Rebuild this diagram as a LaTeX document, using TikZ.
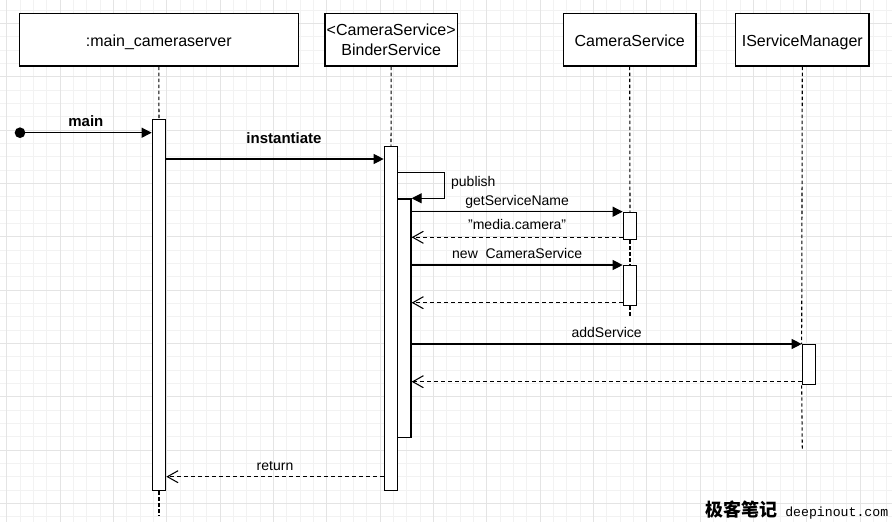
\documentclass[tikz,border=0pt]{standalone}
\usepackage{fontspec}
\setmainfont{Liberation Sans}
\newfontfamily\cjkfont{Noto Sans CJK SC}
\newfontfamily\urlfont{Liberation Mono}
\usepackage{tikz}
\usetikzlibrary{arrows.meta,positioning}
\definecolor{gridminor}{HTML}{F2F2F2}
\definecolor{gridmajor}{HTML}{E4E4E4}

\begin{document}
\begin{tikzpicture}[
    x=0.75pt, y=-0.75pt,
    head/.style={draw, line width=1pt, fill=white, minimum height=39.5pt, inner sep=0pt, align=center, font=\fontsize{12}{14.75}\selectfont},
    onehead/.style={head, text height=11pt, text depth=0.5pt},
    bar/.style={draw, line width=1pt, fill=white, minimum width=10pt, inner sep=0pt, anchor=north},
    life/.style={line width=0.8pt, dash pattern=on 2.5pt off 2pt},
    sync/.style={line width=0.8pt, -{Triangle[length=7.5pt,width=7.5pt]}},
    reply/.style={line width=0.8pt, dash pattern=on 3pt off 2.25pt, -{Straight Barb[length=8pt,width=9pt]}},
    lbl/.style={font=\fontsize{10.5}{12}\selectfont, inner sep=0pt, anchor=base},
    blbl/.style={lbl, font=\fontsize{11.25}{13}\selectfont\bfseries},
    minorline/.style={gridminor, line width=0.6pt},
    majorline/.style={gridmajor, line width=0.75pt}
]
    % === GRID ===
    \useasboundingbox (0,0) rectangle (892,522);
    \fill[white] (0,0) rectangle (892,522);
    \foreach \i in {0,...,66} \draw[minorline] ({6.667+13.333*\i},0) -- ++(0,522);
    \foreach \j in {0,...,38} \draw[minorline] (0,{10+13.333*\j}) -- ++(892,0);
    \foreach \i in {0,...,16} \draw[majorline] ({6.667+53.333*\i},0) -- ++(0,522);
    \foreach \j in {0,...,9} \draw[majorline] (0,{23.333+53.333*\j}) -- ++(892,0);

    % === PARTICIPANTS ===
    \node[onehead, minimum width=209.25pt] (mainhead) at (158.8,39.7) {:main\_cameraserver};
    \node[head, minimum width=99.2pt] (binhead) at (391.2,39.7) {<CameraService>\\BinderService};
    \node[onehead, minimum width=99.5pt] (camhead) at (629.7,39.7) {CameraService};
    \node[onehead, minimum width=100pt] (ismhead) at (802.3,39.7) {IServiceManager};

    % === ACTIVATIONS ===
    \node[bar, minimum height=278.25pt] (mainbar) at (159,119) {};
    \node[bar, minimum height=258.2pt] (binbar) at (391,145.7) {};
    \node[bar, minimum height=178.8pt] (pubbar) at (404.3,198.3) {};
    \node[bar, minimum height=20.5pt] (cambara) at (630,211.7) {};
    \node[bar, minimum height=30pt] (cambarb) at (630,265) {};
    \node[bar, minimum height=30pt] (ismbar) at (809,344) {};

    % === LIFELINES ===
    \coordinate (mainend) at (159,516);
    \coordinate (camend) at (630,316.7);
    \coordinate (ismend) at (802.3,450);
    \draw[life] (mainhead.south) -- (mainbar.north);
    \draw[life] (mainbar.south) -- (mainend);
    \draw[life] (binhead.south) -- (binbar.north);
    \draw[life] (camhead.south) -- (cambara.north);
    \draw[life] (cambara.south) -- (cambarb.north);
    \draw[life] (cambarb.south) -- (camend);
    \draw[life] (ismhead.south) -- (ismbar.north west);
    \draw[life] (ismbar.south west) -- (ismend);

    % === MESSAGES ===
    \node[circle, fill, inner sep=0pt, minimum size=8pt] (start) at (20,132.7) {};
    \draw[sync] (start.center) -- (mainbar.west |- start) node[blbl, midway, yshift=4.5pt] {main};
    \draw[sync] (mainbar.east |- 0,159) -- (binbar.west |- 0,159) node[blbl, midway, xshift=6.75pt, yshift=11.8pt] {instantiate};
    \draw[sync] (binbar.east |- 0,172.3) -- ++(46.3,0) node[lbl, anchor=base west, xshift=4.5pt, yshift=-10.3pt] {publish} |- (pubbar.north east);
    \draw[sync] (pubbar.east |- cambara.north) -- (cambara.north west) node[lbl, midway, yshift=4.5pt] {getServiceName};
    \draw[reply] (cambara.west |- 0,237.3) -- (pubbar.east |- 0,237.3) node[lbl, midway, yshift=5.5pt] {"media.camera"};
    \draw[sync] (pubbar.east |- cambarb.north) -- (cambarb.north west) node[lbl, midway, yshift=5pt] {new\ \ CameraService};
    \draw[reply] (cambarb.west |- 0,302.7) -- (pubbar.east |- 0,302.7);
    \draw[sync] (pubbar.east |- ismbar.north) -- (ismbar.north west) node[lbl, midway, yshift=4.7pt] {addService};
    \draw[reply] (ismbar.west |- 0,381.7) -- (pubbar.east |- 0,381.7);
    \draw[reply] (binbar.west |- 0,476.7) -- (mainbar.east |- 0,476.7) node[lbl, midway, yshift=5pt] {return};

    % Watermark
    \node[inner sep=0pt, anchor=base west, font=\cjkfont\bfseries\fontsize{13.5}{14}\selectfont] (wmcn) at (705,516) {极客笔记};
    \node[inner sep=0pt, anchor=base west, font=\urlfont\fontsize{9.9}{11}\selectfont] (wmurl) at (785,516) {deepinout.com};

\end{tikzpicture}
\end{document}
